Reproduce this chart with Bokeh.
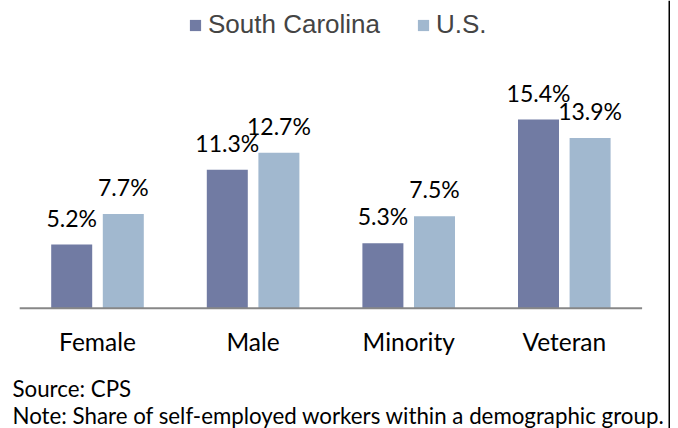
from bokeh.plotting import figure
from bokeh.models import Range1d, Legend, LegendItem, Span, ColumnDataSource
from bokeh.core.properties import value
from bokeh.embed import file_html
from bokeh.resources import INLINE

categories = ["Female", "Male", "Minority", "Veteran"]
sc_values = [5.2, 11.3, 5.3, 15.4]
us_values = [7.7, 12.7, 7.5, 13.9]
series_names = ["South Carolina", "U.S."]
source_text = "Source: CPS"
note_text = "Note: Share of self-employed workers within a demographic group."

SC_COLOR = "#717ba3"
US_COLOR = "#a1b8cf"
LABEL_FONT = "Lato"

W, H = 670, 428
px_per_cat = 155.6
px_per_unit = 12.25
x0 = 0.5 - 97 / px_per_cat
y0 = -(H - 307.7) / px_per_unit

p = figure(width=W, height=H, output_backend="svg", toolbar_location=None,
           x_range=Range1d(x0, x0 + W / px_per_cat),
           y_range=Range1d(y0, y0 + H / px_per_unit),
           min_border=0, min_border_left=0, min_border_right=0,
           min_border_top=0, min_border_bottom=0)
p.xaxis.visible = False
p.yaxis.visible = False
p.xgrid.visible = False
p.ygrid.visible = False
p.outline_line_color = None
p.background_fill_color = "white"
p.border_fill_color = "white"

centers = [i + 0.5 for i in range(len(categories))]
off = 25.8 / px_per_cat
bw = 41 / px_per_cat

sc_src = ColumnDataSource(dict(x=[c - off for c in centers], top=sc_values,
                               label=[f"{v:.1f}%" for v in sc_values]))
us_src = ColumnDataSource(dict(x=[c + off for c in centers], top=us_values,
                               label=[f"{v:.1f}%" for v in us_values]))

r_sc = p.vbar(x="x", top="top", width=bw, bottom=0, source=sc_src,
              fill_color=SC_COLOR, line_color=None)
r_us = p.vbar(x="x", top="top", width=bw, bottom=0, source=us_src,
              fill_color=US_COLOR, line_color=None)

# axis baseline
p.segment(x0=[0], y0=[0], x1=[len(categories)], y1=[0], line_color="#878787", line_width=2)

# value labels
for src in (sc_src, us_src):
    p.text(x="x", y="top", text="label", source=src, text_align="center",
           text_baseline="middle", y_offset=-27,
           text_font=value(LABEL_FONT), text_font_size="23px", text_color="#000000")

# category labels
p.text(x=centers, y=[-2.72] * len(categories), text=categories, text_align="center",
       text_baseline="middle", text_font=value(LABEL_FONT), text_font_size="24.5px",
       text_color="#000000")

# source and note
p.text(x=[x0 + 12 / px_per_cat], y=[-6.53], text=[source_text], text_align="left",
       text_baseline="middle", text_font=value(LABEL_FONT), text_font_size="22.3px",
       text_color="#000000")
p.text(x=[x0 + 12 / px_per_cat], y=[-8.76], text=[note_text], text_align="left",
       text_baseline="middle", text_font=value(LABEL_FONT), text_font_size="22.3px",
       text_color="#000000")

# right border line
p.add_layout(Span(location=x0 + 669 / px_per_cat, dimension="height",
                  line_color="black", line_width=2))

legend = Legend(items=[LegendItem(label=series_names[0], renderers=[r_sc]),
                       LegendItem(label=series_names[1], renderers=[r_us])],
                location=(188, 388), orientation="horizontal",
                glyph_width=14, glyph_height=14, label_standoff=6, spacing=36,
                padding=0, margin=0, border_line_alpha=0, background_fill_alpha=0,
                label_text_font="Liberation Sans", label_text_font_size="26px",
                label_height=30)
p.add_layout(legend)

open("out.html", "w").write(file_html(p, INLINE))
